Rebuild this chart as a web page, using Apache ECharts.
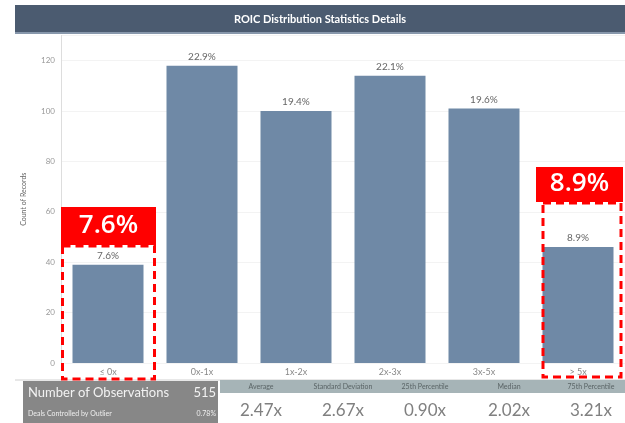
<!DOCTYPE html>
<html>
<head>
<meta charset="utf-8">
<script src="https://cdn.jsdelivr.net/npm/echarts@6/dist/echarts.min.js"></script>
<style>
html,body{margin:0;padding:0;background:#fff;}
#chart{width:625px;height:423px;}
</style>
</head>
<body>
<div id="chart"></div>
<script>
const categories = ['≤ 0x', '0x-1x', '1x-2x', '2x-3x', '3x-5x', '> 5x'];
const counts = [39, 118, 100, 114, 101, 46];
const pctLabels = ['7.6%', '22.9%', '19.4%', '22.1%', '19.6%', '8.9%'];
const yTicks = [0, 20, 40, 60, 80, 100, 120];
const statLabels = ['Average', 'Standard Deviation', '25th Percentile', 'Median', '75th Percentile'];
const statValues = ['2.47x', '2.67x', '0.90x', '2.02x', '3.21x'];
const observations = '515';
const outlierShare = '0.78%';
const calloutLeft = '7.6%';
const calloutRight = '8.9%';

const FONT = 'Lato, "Open Sans", sans-serif';
const CALLOUT_FONT = '"Open Sans", Lato, sans-serif';
const chart = echarts.init(document.getElementById('chart'), null, {renderer: 'canvas'});

const statX = [261, 343, 425, 509, 591];

const graphics = [
  // title bar
  {type: 'rect', shape: {x: 15, y: 5, width: 610, height: 28}, style: {fill: '#4b5b70'}, z: 10},
  {type: 'rect', shape: {x: 15, y: 32, width: 610, height: 2}, style: {fill: '#8797ab'}, z: 10},
  {type: 'text', x: 320, y: 19, style: {text: 'ROIC Distribution Statistics Details', fill: '#ffffff', font: 'bold 11px ' + FONT, textAlign: 'center', textVerticalAlign: 'middle'}, z: 11},
  // bottom separator line
  {type: 'line', shape: {x1: 15, y1: 380, x2: 625, y2: 380}, style: {stroke: '#d0d0d0', lineWidth: 1}, z: 5},
  // left gray panel
  {type: 'rect', shape: {x: 23, y: 381, width: 195, height: 42}, style: {fill: '#878787'}, z: 10},
  {type: 'text', x: 28, y: 393, style: {text: 'Number of Observations', fill: '#f2f2f2', font: '13px ' + FONT, textVerticalAlign: 'middle'}, z: 11},
  {type: 'text', x: 216, y: 393, style: {text: observations, fill: '#f2f2f2', font: '13px ' + FONT, textAlign: 'right', textVerticalAlign: 'middle'}, z: 11},
  {type: 'text', x: 28, y: 414, style: {text: 'Deals Controlled by Outlier', fill: '#eeeeee', font: '7px ' + FONT, textVerticalAlign: 'middle'}, z: 11},
  {type: 'text', x: 216, y: 414, style: {text: outlierShare, fill: '#eeeeee', font: '7px ' + FONT, textAlign: 'right', textVerticalAlign: 'middle'}, z: 11},
  // header band
  {type: 'rect', shape: {x: 220, y: 380, width: 405, height: 13}, style: {fill: '#a6b4b7'}, z: 10},
  // red callouts
  {type: 'rect', shape: {x: 61, y: 207, width: 95, height: 38}, style: {fill: '#ff0000'}, z: 12},
  {type: 'text', x: 108.5, y: 226, style: {text: calloutLeft, fill: '#ffffff', font: '600 26px ' + CALLOUT_FONT, textAlign: 'center', textVerticalAlign: 'middle'}, z: 13},
  {type: 'rect', shape: {x: 62.5, y: 246, width: 92, height: 133}, style: {fill: 'none', stroke: '#ff0000', lineWidth: 3, lineDash: [8, 5]}, z: 12},
  {type: 'rect', shape: {x: 536, y: 167, width: 87, height: 35}, style: {fill: '#ff0000'}, z: 12},
  {type: 'text', x: 579.5, y: 184, style: {text: calloutRight, fill: '#ffffff', font: '600 26px ' + CALLOUT_FONT, textAlign: 'center', textVerticalAlign: 'middle'}, z: 13},
  {type: 'rect', shape: {x: 543, y: 203, width: 78, height: 174}, style: {fill: 'none', stroke: '#ff0000', lineWidth: 3, lineDash: [8, 5]}, z: 12}
];
statLabels.forEach((t, i) => {
  graphics.push({type: 'text', x: statX[i], y: 386.5, style: {text: t, fill: '#5a6466', font: '7px ' + FONT, textAlign: 'center', textVerticalAlign: 'middle'}, z: 11});
  graphics.push({type: 'text', x: statX[i], y: 411, style: {text: statValues[i], fill: '#808080', font: '17px ' + FONT, textAlign: 'center', textVerticalAlign: 'middle'}, z: 11});
});

chart.setOption({
  animation: false,
  grid: {left: 61, right: -2, top: 35.5, bottom: 60, containLabel: false},
  xAxis: {
    type: 'category',
    data: categories,
    axisLine: {show: false},
    axisTick: {show: false},
    axisLabel: {color: '#888', fontSize: 9, fontFamily: FONT, margin: 5}
  },
  yAxis: {
    type: 'value',
    min: yTicks[0],
    max: 130,
    interval: 20,
    name: 'Count of Records',
    nameLocation: 'middle',
    nameGap: 34,
    nameRotate: 90,
    nameTextStyle: {color: '#666', fontSize: 7, fontFamily: FONT},
    axisLine: {show: true, lineStyle: {color: '#dddddd', width: 1}},
    axisTick: {show: false},
    axisLabel: {color: '#999', fontSize: 8, fontFamily: FONT, margin: 6, showMaxLabel: false},
    splitLine: {show: true, lineStyle: {color: '#f3f3f3', width: 1}}
  },
  series: [{
    type: 'bar',
    data: counts,
    barWidth: 71,
    itemStyle: {color: '#6f89a6'},
    label: {
      show: true,
      position: 'top',
      distance: 4,
      color: '#666',
      fontSize: 10,
      fontFamily: FONT,
      formatter: p => pctLabels[p.dataIndex]
    }
  }],
  graphic: graphics
});
</script>
</body>
</html>
